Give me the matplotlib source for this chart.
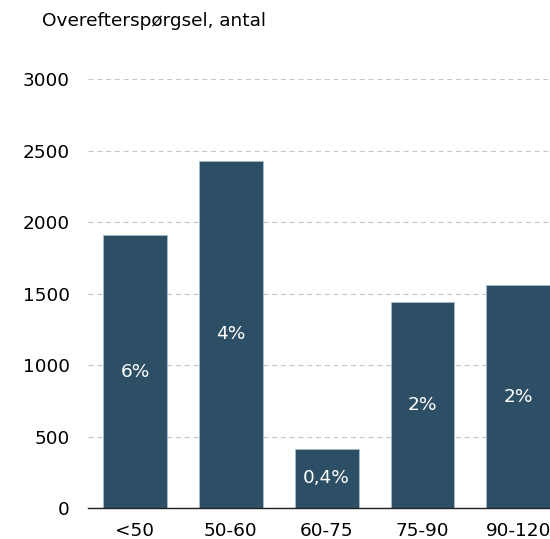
import matplotlib
matplotlib.use("Agg")
import matplotlib.pyplot as plt

categories = ["<50", "50-60", "60-75", "75-90", "90-120"]
values = [1909, 2427, 413, 1441, 1559]
labels = ["6%", "4%", "0,4%", "2%", "2%"]
yticks = [0, 500, 1000, 1500, 2000, 2500, 3000]

plt.rcParams['font.family'] = ['DejaVu Sans']
fig = plt.figure(figsize=(5.5, 5.39), dpi=100)
ax = fig.add_axes([0.16, 0.0575, 0.84, 0.7959])

fs = 13.3
x = list(range(len(categories)))
bars = ax.bar(x, values, width=0.667, color="#2c4f65", edgecolor="#a9bccb", linewidth=0.6, zorder=3)
for xi, v, lab in zip(x, values, labels):
    ax.text(xi, v / 2, lab, ha="center", va="center", color="white", fontsize=fs, zorder=4)

ax.set_ylim(0, 3000)
ax.set_xlim(-0.49, 4.33)
ax.set_yticks(yticks)
ax.set_yticklabels([str(t) for t in yticks], fontsize=fs)
ax.set_xticks(x)
ax.set_xticklabels(categories, fontsize=fs)
ax.yaxis.grid(True, color="#c8c8c8", linestyle=(0, (4, 3)), linewidth=0.9, zorder=0)
ax.tick_params(axis="x", length=0, pad=10)
ax.tick_params(axis="y", length=0, pad=13)
for s in ["left", "right", "top"]:
    ax.spines[s].set_visible(False)
ax.spines["bottom"].set_color("#222222")
ax.spines["bottom"].set_linewidth(1.0)
ax.spines["bottom"].set_zorder(5)

fig.text(42 / 550, 1 - 21 / 539, "Overefterspørgsel, antal", fontsize=fs, ha="left", va="center")

fig.savefig("out.png", dpi=100)
